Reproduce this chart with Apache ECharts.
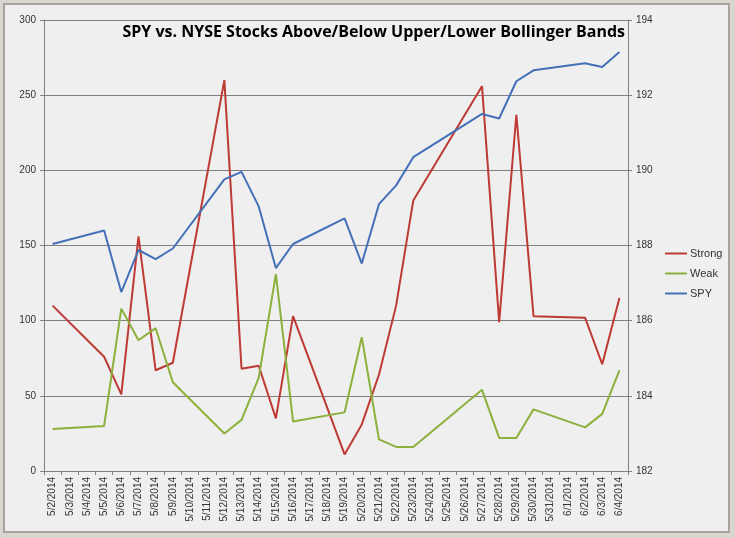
<!DOCTYPE html>
<html><head><meta charset="utf-8">
<script src="https://cdn.jsdelivr.net/npm/echarts@6/dist/echarts.min.js"></script>
<style>html,body{margin:0;padding:0;background:#d9d6d2}
#c{position:absolute;left:3px;top:3px;width:727px;height:530px;background:#efefef;border:2px solid #a8a39d;box-sizing:border-box}</style>
</head><body><div id="c"></div>
<script>
const categories=['5/2/2014','5/3/2014','5/4/2014','5/5/2014','5/6/2014','5/7/2014','5/8/2014','5/9/2014','5/10/2014','5/11/2014','5/12/2014','5/13/2014','5/14/2014','5/15/2014','5/16/2014','5/17/2014','5/18/2014','5/19/2014','5/20/2014','5/21/2014','5/22/2014','5/23/2014','5/24/2014','5/25/2014','5/26/2014','5/27/2014','5/28/2014','5/29/2014','5/30/2014','5/31/2014','6/1/2014','6/2/2014','6/3/2014','6/4/2014'];
const tradingDays=['5/2/2014','5/5/2014','5/6/2014','5/7/2014','5/8/2014','5/9/2014','5/12/2014','5/13/2014','5/14/2014','5/15/2014','5/16/2014','5/19/2014','5/20/2014','5/21/2014','5/22/2014','5/23/2014','5/27/2014','5/28/2014','5/29/2014','5/30/2014','6/2/2014','6/3/2014','6/4/2014'];
const strong=[110,76,51,156,67,72,260,68,70,35,103,11,31,64,110,180,256,99,237,103,102,71,115];
const weak=[28,30,108,87,95,59,25,34,62,131,33,39,89,21,16,16,54,22,22,41,29,38,67];
const spy=[188.04,188.4,186.76,187.88,187.64,187.92,189.76,189.96,189.04,187.4,188.04,188.72,187.52,189.1,189.6,190.35,191.5,191.38,192.37,192.66,192.85,192.75,193.15];
function expand(v){return categories.map(c=>{const i=tradingDays.indexOf(c);return i<0?null:v[i];});}
const ch=echarts.init(document.getElementById('c'));
const ax={axisLine:{show:true,lineStyle:{color:'#808080'}},axisTick:{show:true,lineStyle:{color:'#808080'},length:4},axisLabel:{color:'#333',fontSize:10,fontFamily:'Liberation Sans'}};
ch.setOption({
 animation:false,
 title:{text:'SPY vs. NYSE Stocks Above/Below Upper/Lower Bollinger Bands',right:98,top:14,textStyle:{fontFamily:'Open Sans',fontSize:16,fontWeight:'bold',color:'#000'}},
 legend:{orient:'vertical',left:655,top:238,itemWidth:22,itemHeight:2,itemGap:9,icon:'rect',textStyle:{fontSize:11,color:'#333',fontFamily:'Liberation Sans',padding:[0,0,0,-2]},data:['Strong','Weak','SPY']},
 grid:{left:39,right:100,top:15,bottom:60},
 xAxis:{type:'category',data:categories,boundaryGap:true,...ax,axisTick:{show:true,interval:0,alignWithLabel:false,lineStyle:{color:'#808080'},length:4},axisLabel:{...ax.axisLabel,rotate:90,interval:0,margin:6}},
 yAxis:[{type:'value',min:0,max:300,interval:50,...ax,splitLine:{lineStyle:{color:'#808080'}}},
        {type:'value',min:182,max:194,interval:2,...ax,splitLine:{show:false}}],
 series:[
  {name:'Strong',type:'line',data:expand(strong),connectNulls:true,showSymbol:false,symbol:'none',lineStyle:{width:2,color:'#be3a34'},itemStyle:{color:'#be3a34'}},
  {name:'Weak',type:'line',data:expand(weak),connectNulls:true,showSymbol:false,symbol:'none',lineStyle:{width:2,color:'#8cb03c'},itemStyle:{color:'#8cb03c'}},
  {name:'SPY',type:'line',yAxisIndex:1,data:expand(spy),connectNulls:true,showSymbol:false,symbol:'none',lineStyle:{width:2,color:'#4470b8'},itemStyle:{color:'#4470b8'}}
 ]
});
</script></body></html>
